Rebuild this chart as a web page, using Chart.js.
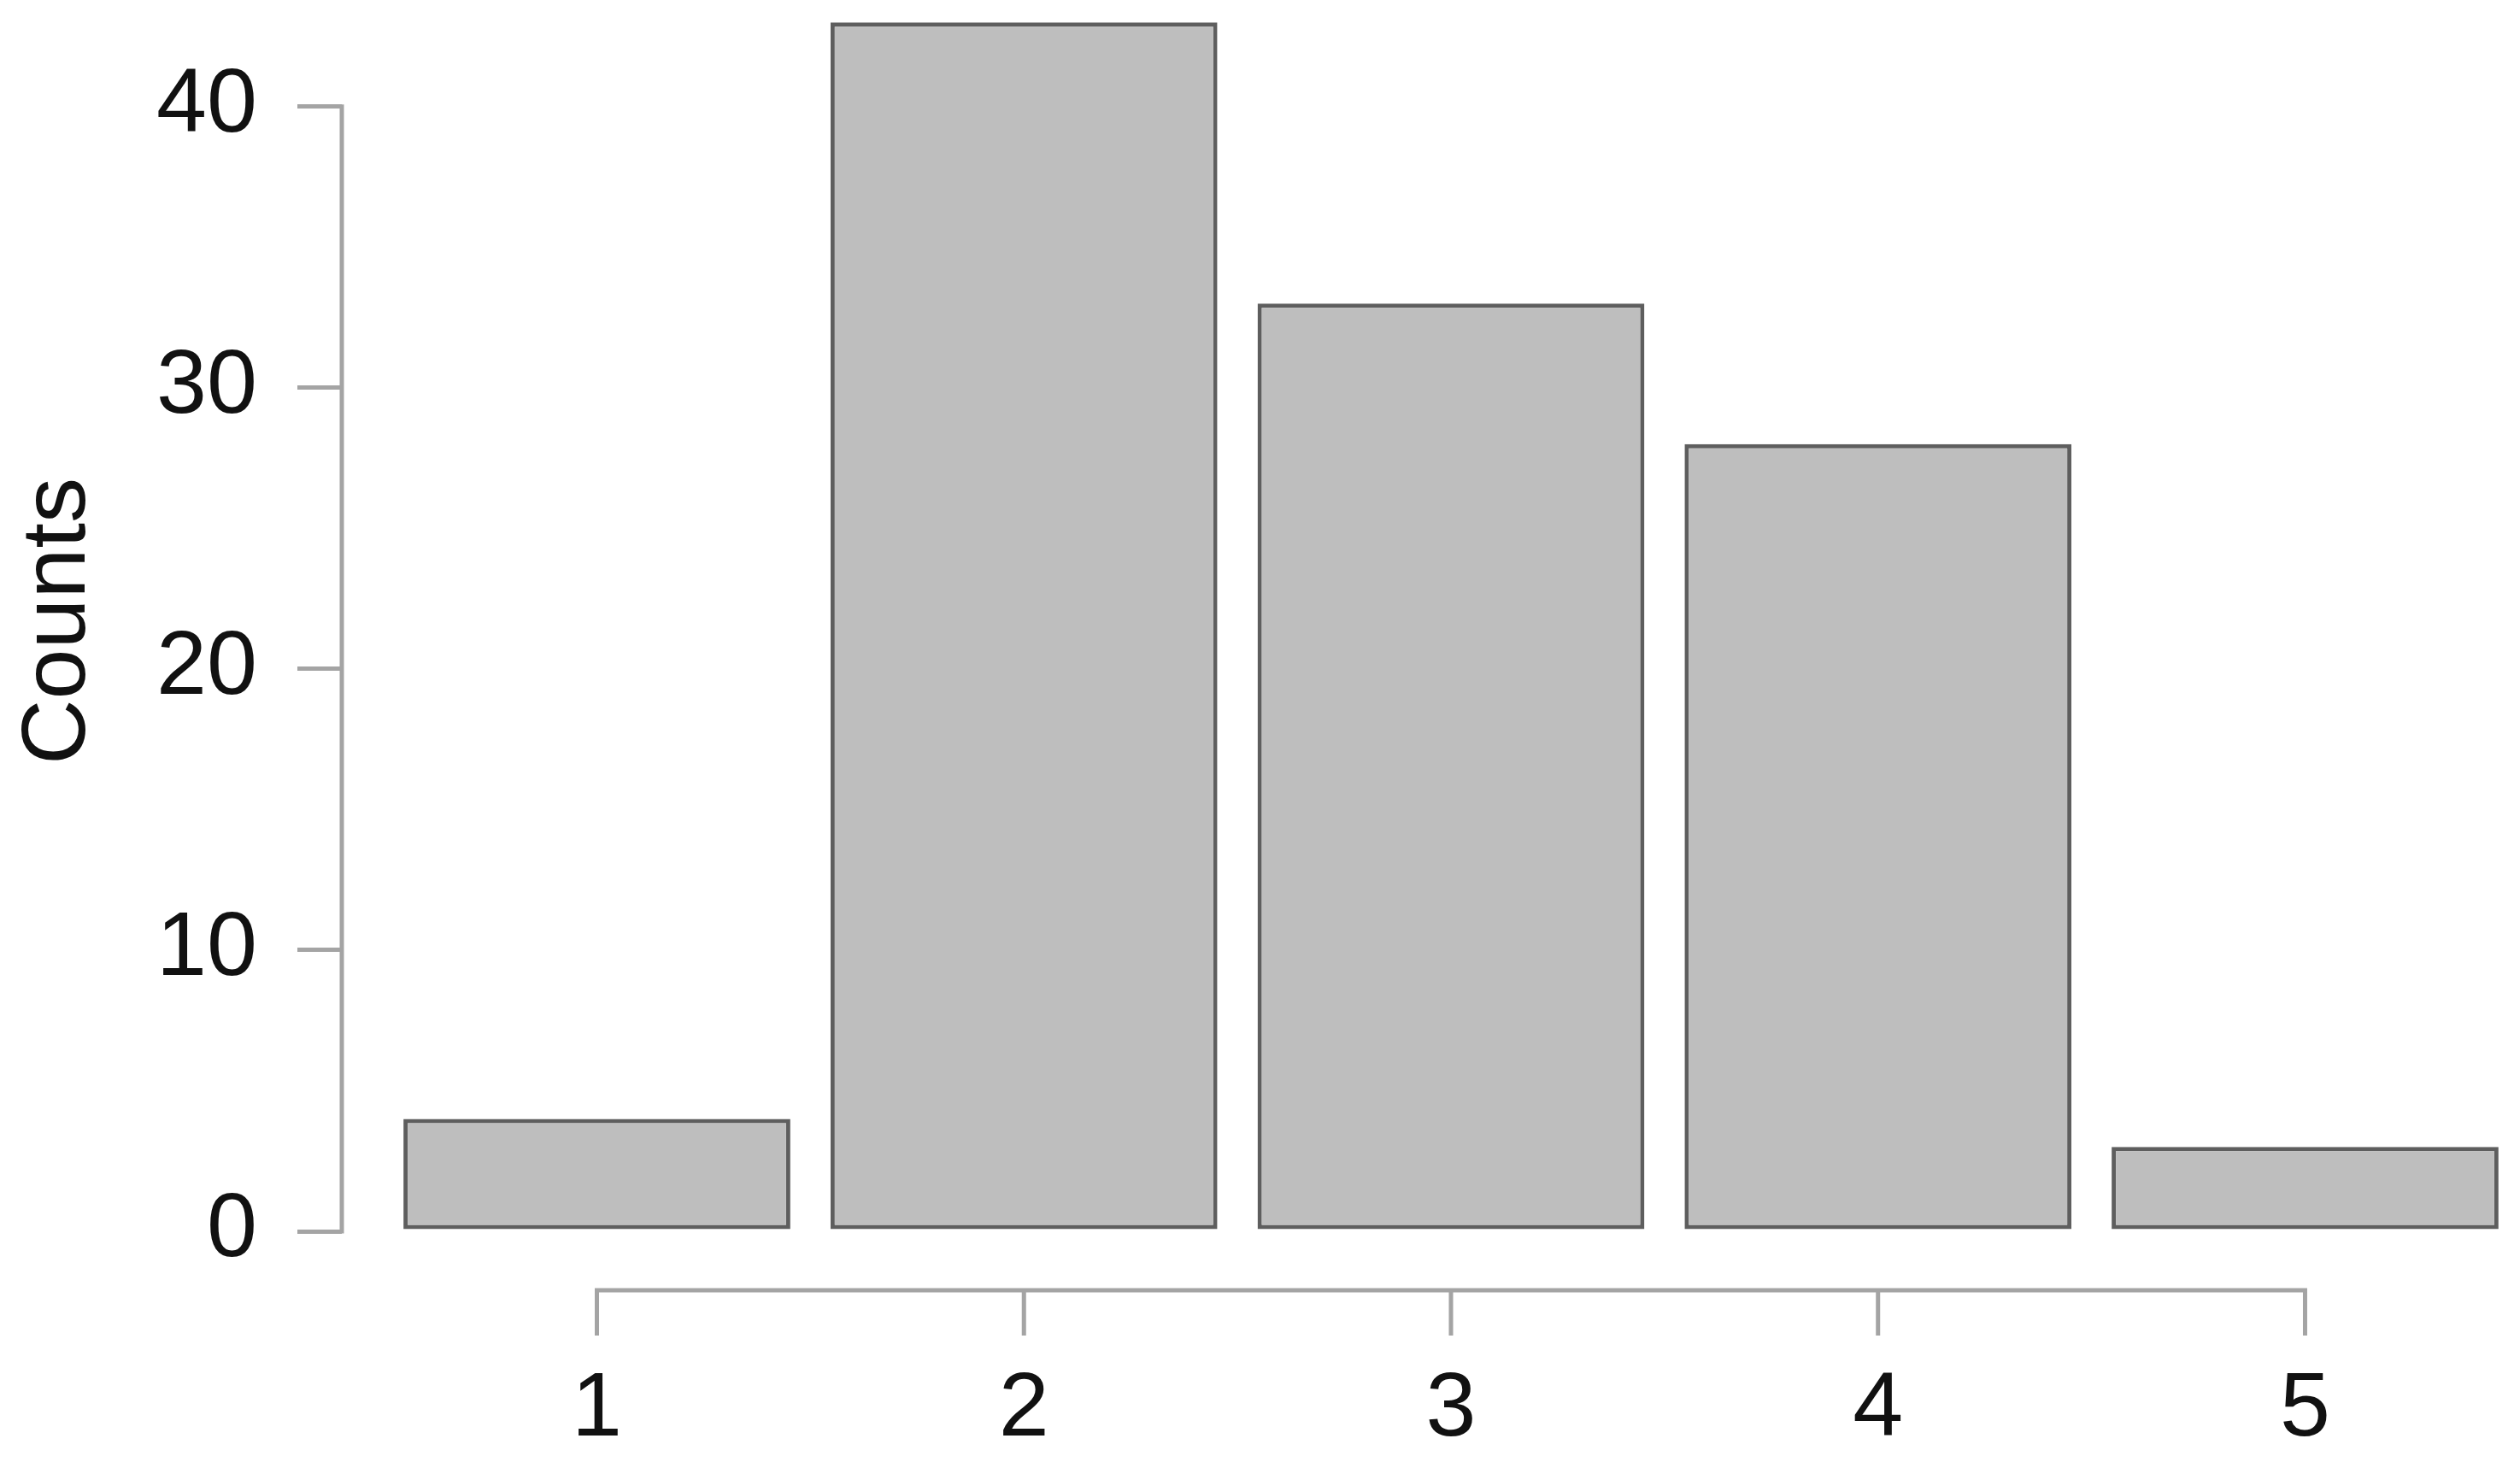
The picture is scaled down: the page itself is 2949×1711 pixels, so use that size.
<!DOCTYPE html>
<html>
<head>
<meta charset="utf-8">
<title>Counts</title>
<script src="https://cdn.jsdelivr.net/npm/chart.js@4"></script>
<style>
  html, body { margin: 0; padding: 0; background: #fff; }
  #wrap { width: 2949px; height: 1711px; position: relative; }
</style>
</head>
<body>
<div id="wrap"><canvas id="chart"></canvas></div>
<script>
const categories = [1, 2, 3, 4, 5];
const xLabels = ["1", "2", "3", "4", "5"];
const counts = [4, 43, 33, 28, 3];
const yTicks = [0, 10, 20, 30, 40];

const axisColor = "#a4a4a4";
const textColor = "#111111";
const font = "'Liberation Sans', Arial, sans-serif";

// R-style detached axes: y line only from 0 to 40, x line below the plot
const rAxes = {
  id: "rAxes",
  afterDraw(chart) {
    const { ctx, chartArea, scales } = chart;
    const x = scales.x;
    const y = scales.y;
    ctx.save();
    ctx.strokeStyle = axisColor;
    ctx.lineWidth = 5;
    ctx.lineCap = "square";
    ctx.beginPath();
    ctx.moveTo(chartArea.left, y.getPixelForValue(yTicks[0]));
    ctx.lineTo(chartArea.left, y.getPixelForValue(yTicks[yTicks.length - 1]));
    ctx.stroke();

    const ay = chartArea.bottom + 69;
    ctx.lineCap = "butt";
    ctx.beginPath();
    ctx.moveTo(x.getPixelForValue(categories[0]) - 2.5, ay);
    ctx.lineTo(x.getPixelForValue(categories[categories.length - 1]) + 2.5, ay);
    for (const c of categories) {
      const px = x.getPixelForValue(c);
      ctx.moveTo(px, ay);
      ctx.lineTo(px, ay + 53);
    }
    ctx.stroke();
    ctx.restore();
  },
};

const ctx = document.getElementById("chart");

new Chart(ctx, {
  type: "bar",
  data: {
    datasets: [
      {
        label: "Counts",
        data: categories.map((c, i) => ({ x: c, y: counts[i] })),
        backgroundColor: "#bebebe",
        borderColor: "#5e5e5e",
        borderWidth: 5,
        borderSkipped: false,
        categoryPercentage: 1,
        barPercentage: 0.906,
        clip: false,
      },
    ],
  },
  options: {
    responsive: true,
    maintainAspectRatio: false,
    devicePixelRatio: 1,
    animation: false,
    events: [],
    layout: { padding: { top: 13, left: 0, right: 0, bottom: 0 } },
    plugins: {
      legend: { display: false },
      tooltip: { enabled: false },
    },
    scales: {
      x: {
        type: "linear",
        offset: false,
        min: 0.4027,
        max: 5.5033,
        afterBuildTicks: (s) => {
          s.ticks = categories.map((v) => ({ value: v }));
        },
        afterFit: (s) => {
          s.height = 270;
          s.paddingLeft = 0;
          s.paddingRight = 0;
        },
        grid: { display: false, drawTicks: false },
        border: { display: false },
        ticks: {
          padding: 146,
          maxRotation: 0,
          autoSkip: false,
          color: textColor,
          font: { family: font, size: 106 },
          callback: (v) => xLabels[categories.indexOf(v)],
        },
      },
      y: {
        min: 0,
        max: 43.4,
        afterBuildTicks: (s) => {
          s.ticks = yTicks.map((v) => ({ value: v }));
        },
        afterFit: (s) => {
          s.width = 400;
          s.paddingTop = 0;
          s.paddingBottom = 0;
        },
        grid: {
          display: true,
          drawOnChartArea: false,
          drawTicks: true,
          tickLength: 52,
          color: axisColor,
          lineWidth: 5,
        },
        border: { display: false },
        ticks: {
          padding: 47,
          color: textColor,
          font: { family: font, size: 106 },
        },
        title: {
          display: true,
          text: "Counts",
          color: textColor,
          font: { family: font, size: 106 },
          padding: { top: 6, bottom: 0 },
        },
      },
    },
  },
  plugins: [rAxes],
});
</script>
</body>
</html>
